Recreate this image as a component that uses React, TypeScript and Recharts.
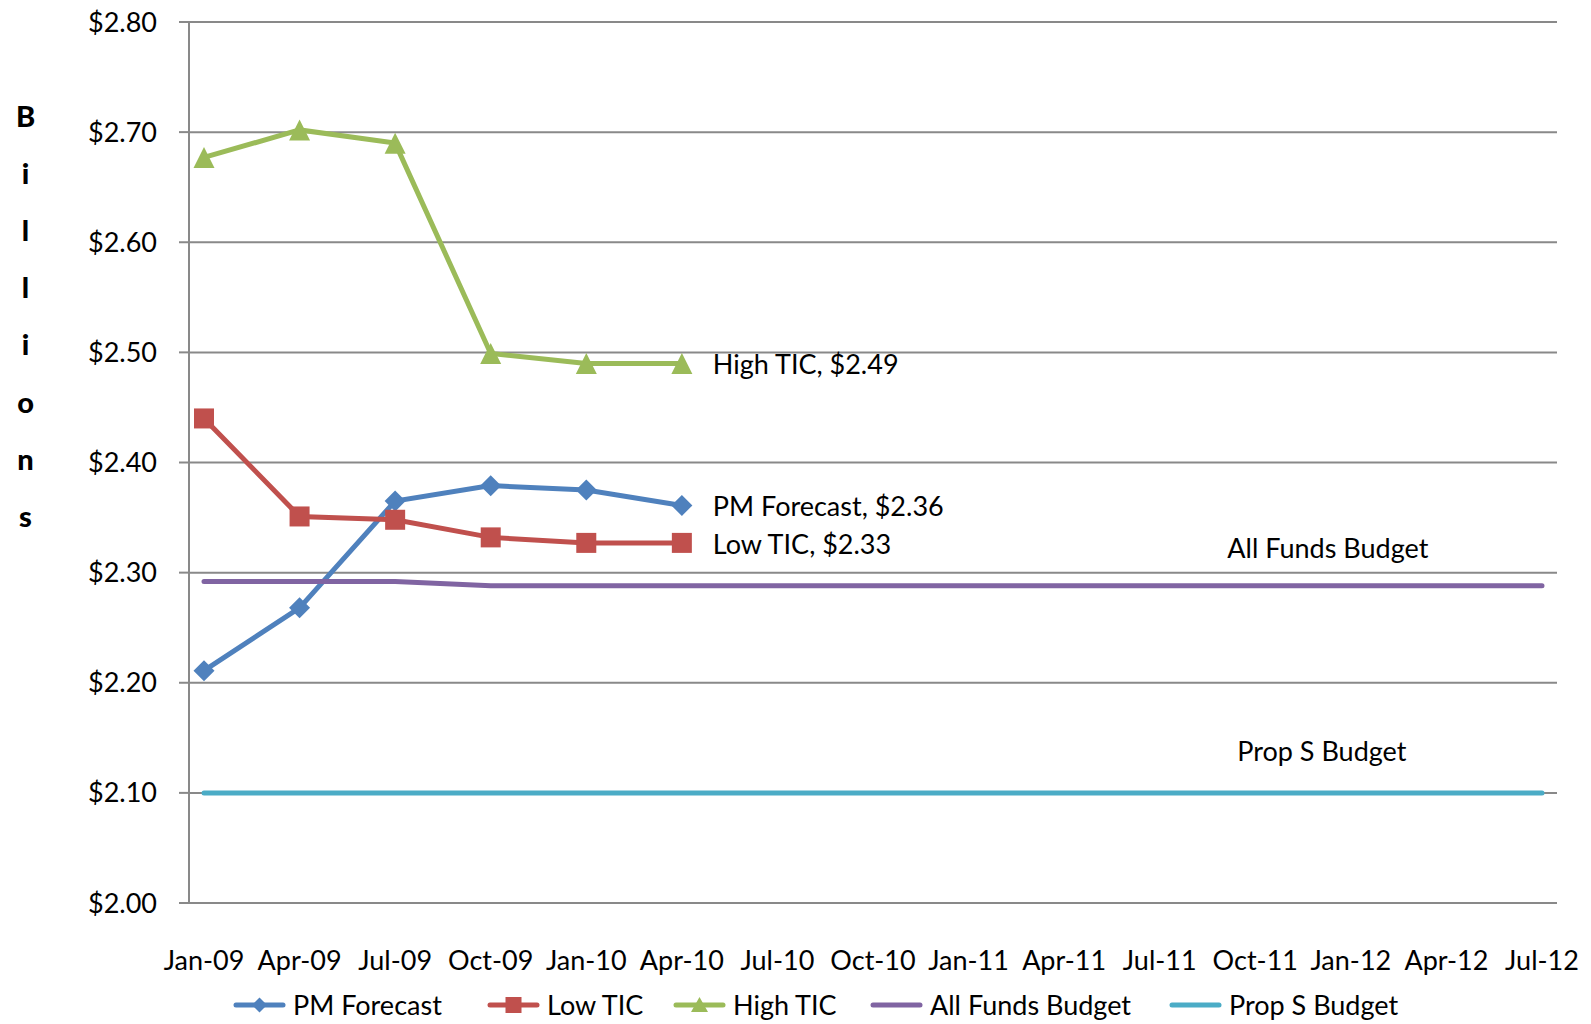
import React from 'react';
import { LineChart, Line, XAxis, YAxis, CartesianGrid, Legend, LabelList } from 'recharts';

const categories = ['Jan-09', 'Apr-09', 'Jul-09', 'Oct-09', 'Jan-10', 'Apr-10', 'Jul-10', 'Oct-10', 'Jan-11', 'Apr-11', 'Jul-11', 'Oct-11', 'Jan-12', 'Apr-12', 'Jul-12'];
const pmForecast = [2.211, 2.268, 2.365, 2.379, 2.375, 2.361];
const lowTIC = [2.44, 2.351, 2.348, 2.332, 2.327, 2.327];
const highTIC = [2.677, 2.702, 2.69, 2.499, 2.49, 2.49];
const allFundsBudget = [2.292, 2.292, 2.292, 2.288, 2.288, 2.288, 2.288, 2.288, 2.288, 2.288, 2.288, 2.288, 2.288, 2.288, 2.288];
const propSBudget = [2.1, 2.1, 2.1, 2.1, 2.1, 2.1, 2.1, 2.1, 2.1, 2.1, 2.1, 2.1, 2.1, 2.1, 2.1];
const yTicks = [2.0, 2.1, 2.2, 2.3, 2.4, 2.5, 2.6, 2.7, 2.8];

const COLORS = {
  pm: '#4F81BD',
  low: '#C0504D',
  high: '#9BBB59',
  allFunds: '#8064A2',
  propS: '#4BACC6',
};
const GRID = '#898989';
const FONT = 'Lato, "Noto Sans", sans-serif';

const rows = categories.map((cat, i) => ({
  cat,
  pm: pmForecast[i] ?? null,
  low: lowTIC[i] ?? null,
  high: highTIC[i] ?? null,
  allFunds: allFundsBudget[i] ?? null,
  propS: propSBudget[i] ?? null,
}));

const Diamond = (props: any) => {
  const { cx, cy, fill, r = 10.5 } = props;
  if (cx == null || cy == null) return <g />;
  return <path d={`M${cx},${cy - r}L${cx + r},${cy}L${cx},${cy + r}L${cx - r},${cy}Z`} fill={fill} />;
};
const Square = (props: any) => {
  const { cx, cy, fill, r = 10 } = props;
  if (cx == null || cy == null) return <g />;
  return <rect x={cx - r} y={cy - r} width={2 * r} height={2 * r} fill={fill} />;
};
const Triangle = (props: any) => {
  const { cx, cy, fill, r = 10.5 } = props;
  if (cx == null || cy == null) return <g />;
  return <path d={`M${cx},${cy - r}L${cx + r},${cy + r}L${cx - r},${cy + r}Z`} fill={fill} />;
};

const makeEndLabel = (name: string, series: number[]) => (props: any) => {
  const { x, y, index } = props;
  if (index !== series.length - 1 || x == null || y == null) return null;
  return (
    <text x={x + 31} y={y + 11} fontSize={27} fontFamily={FONT} fill="#000">
      {`${name}, $${series[index].toFixed(2)}`}
    </text>
  );
};

const makeBudgetLabel = (text: string, atIndex: number, dx: number, dy: number) => (props: any) => {
  const { x, y, index } = props;
  if (index !== atIndex || x == null || y == null) return null;
  return (
    <text x={x + dx} y={y + dy} fontSize={27} fontFamily={FONT} fill="#000" textAnchor="middle">
      {text}
    </text>
  );
};

const yLabelLetters = 'Billions'.split('');
const YAxisTitle = () => (
  <g>
    {yLabelLetters.map((ch, i) => (
      <text key={i} x={25.5} y={127 + i * 57.1} textAnchor="middle" fontSize={29} fontWeight={900} fontFamily={FONT} fill="#000">
        {ch}
      </text>
    ))}
  </g>
);

const legendItems = [
  { name: 'PM Forecast', color: COLORS.pm, marker: 'diamond' },
  { name: 'Low TIC', color: COLORS.low, marker: 'square' },
  { name: 'High TIC', color: COLORS.high, marker: 'triangle' },
  { name: 'All Funds Budget', color: COLORS.allFunds, marker: 'none' },
  { name: 'Prop S Budget', color: COLORS.propS, marker: 'none' },
];
const legendLeft = [233, 487, 673, 870, 1169];

const LegendIcon = ({ color, marker }: { color: string; marker: string }) => (
  <svg width={53} height={30} style={{ display: 'block' }}>
    <line x1={3} y1={15} x2={50} y2={15} stroke={color} strokeWidth={5} strokeLinecap="round" />
    {marker === 'diamond' && <Diamond cx={26.5} cy={15} r={7.5} fill={color} />}
    {marker === 'square' && <Square cx={26.5} cy={15} r={8} fill={color} />}
    {marker === 'triangle' && <path d="M26.5,7L35,22L18,22Z" fill={color} />}
  </svg>
);

const LegendContent = () => (
  <div style={{ position: 'relative', height: 30, width: 1591, fontFamily: FONT, fontSize: 27, color: '#000' }}>
    {legendItems.map((it, i) => (
      <div key={it.name} style={{ position: 'absolute', left: legendLeft[i], top: 0, height: 30, display: 'flex', alignItems: 'center' }}>
        <LegendIcon color={it.color} marker={it.marker} />
        <span style={{ marginLeft: 7, lineHeight: '30px', whiteSpace: 'nowrap' }}>{it.name}</span>
      </div>
    ))}
  </div>
);

export default function App() {
  return (
    <div style={{ position: 'absolute', left: 0, top: 0, width: 1591, height: 1024, background: '#fff', fontFamily: FONT }}>
      <LineChart width={1591} height={1024} data={rows} margin={{ top: 22, right: 34, bottom: 4, left: 0 }}>
        <CartesianGrid vertical={false} stroke={GRID} strokeWidth={2} />
        <XAxis
          dataKey="cat"
          scale="point"
          interval={0}
          padding={{ left: 15, right: 15 }}
          height={87}
          tickLine={false}
          tickSize={0}
          tickMargin={48}
          axisLine={{ stroke: GRID, strokeWidth: 2 }}
          tick={{ fontSize: 27, fill: '#000', fontFamily: FONT }}
        />
        <YAxis
          width={189}
          domain={[2.0, 2.8]}
          ticks={yTicks}
          interval={0}
          tickFormatter={(v: number) => `$${v.toFixed(2)}`}
          tickSize={10}
          tickMargin={22}
          axisLine={{ stroke: GRID, strokeWidth: 2 }}
          tickLine={{ stroke: GRID, strokeWidth: 2 }}
          tick={{ fontSize: 27, fill: '#000', fontFamily: FONT }}
          label={{ content: () => <YAxisTitle /> }}
        />
        <Legend verticalAlign="bottom" wrapperStyle={{ left: 0, width: 1591 }} content={() => <LegendContent />} />
        <Line
          dataKey="pm"
          name="PM Forecast"
          type="linear"
          stroke={COLORS.pm}
          strokeWidth={5}
          dot={(p: any) => <Diamond key={`pm-${p.index}`} cx={p.cx} cy={p.cy} fill={COLORS.pm} />}
          activeDot={false}
          isAnimationActive={false}
        >
          <LabelList dataKey="pm" content={makeEndLabel('PM Forecast', pmForecast)} />
        </Line>
        <Line
          dataKey="low"
          name="Low TIC"
          type="linear"
          stroke={COLORS.low}
          strokeWidth={5}
          dot={(p: any) => <Square key={`low-${p.index}`} cx={p.cx} cy={p.cy} fill={COLORS.low} />}
          activeDot={false}
          isAnimationActive={false}
        >
          <LabelList dataKey="low" content={makeEndLabel('Low TIC', lowTIC)} />
        </Line>
        <Line
          dataKey="high"
          name="High TIC"
          type="linear"
          stroke={COLORS.high}
          strokeWidth={5}
          dot={(p: any) => <Triangle key={`high-${p.index}`} cx={p.cx} cy={p.cy} fill={COLORS.high} />}
          activeDot={false}
          isAnimationActive={false}
        >
          <LabelList dataKey="high" content={makeEndLabel('High TIC', highTIC)} />
        </Line>
        <Line
          dataKey="allFunds"
          name="All Funds Budget"
          type="linear"
          stroke={COLORS.allFunds}
          strokeWidth={5}
          strokeLinecap="round"
          dot={false}
          activeDot={false}
          isAnimationActive={false}
        >
          <LabelList dataKey="allFunds" content={makeBudgetLabel('All Funds Budget', 12, -23, -28)} />
        </Line>
        <Line
          dataKey="propS"
          name="Prop S Budget"
          type="linear"
          stroke={COLORS.propS}
          strokeWidth={5}
          strokeLinecap="round"
          dot={false}
          activeDot={false}
          isAnimationActive={false}
        >
          <LabelList dataKey="propS" content={makeBudgetLabel('Prop S Budget', 12, -29, -32)} />
        </Line>
      </LineChart>
    </div>
  );
}
